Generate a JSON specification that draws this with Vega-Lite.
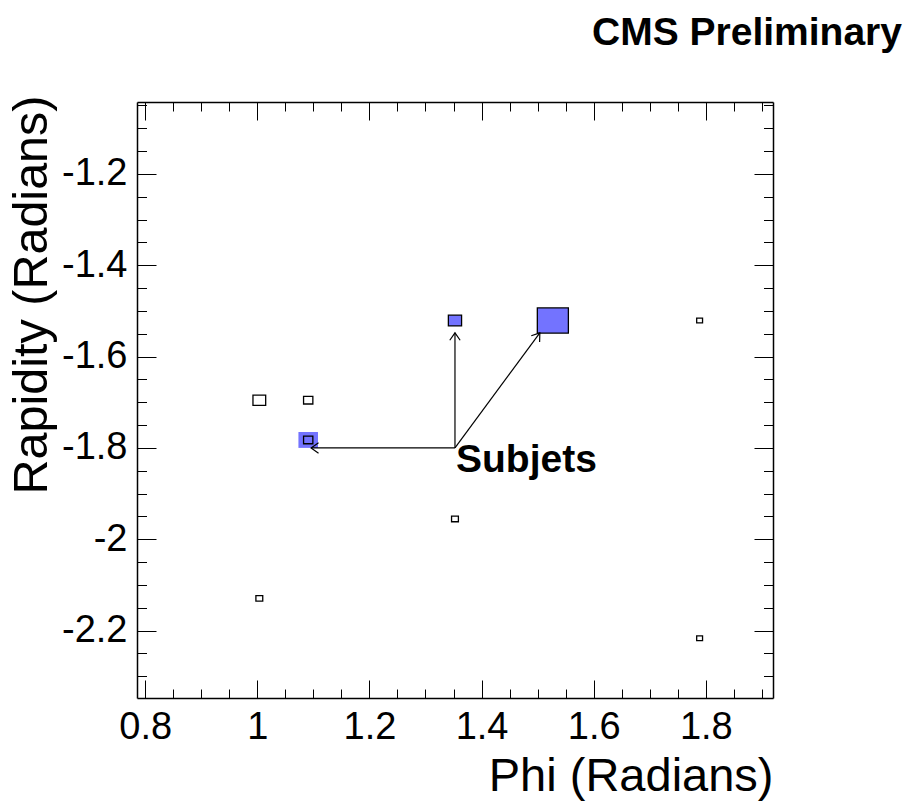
{
  "$schema": "https://vega.github.io/schema/vega-lite/v6.json",
  "autosize": {"type": "none"},
  "padding": {"left": 137, "top": 102, "right": 142, "bottom": 106},
  "width": 636,
  "height": 596,
  "background": "white",
  "config": {
    "font": "Liberation Sans",
    "view": {"stroke": null},
    "axis": {
      "grid": false,
      "domainColor": "black",
      "domainWidth": 1.5,
      "tickColor": "black",
      "tickWidth": 1,
      "labelColor": "black",
      "labelFont": "Liberation Sans",
      "labelFontSize": 38,
      "titleFont": "Liberation Sans",
      "titleFontSize": 47,
      "titleFontWeight": "normal",
      "titleColor": "black"
    }
  },
  "title": {
    "text": "CMS Preliminary",
    "anchor": "end",
    "frame": "group",
    "font": "Liberation Sans",
    "fontSize": 39,
    "fontWeight": "bold",
    "color": "black",
    "baseline": "alphabetic",
    "dx": 129,
    "offset": 11
  },
  "datasets": {
    "constituents": [
      {"phi": 1.0036, "rapidity": -1.6955, "content": 0.26},
      {"phi": 1.0908, "rapidity": -1.6955, "content": 0.19},
      {"phi": 1.0908, "rapidity": -1.7825, "content": 0.19},
      {"phi": 1.3526, "rapidity": -1.521, "content": 0.27},
      {"phi": 1.5272, "rapidity": -1.521, "content": 0.635},
      {"phi": 1.789, "rapidity": -1.521, "content": 0.12},
      {"phi": 1.3526, "rapidity": -1.9555, "content": 0.14},
      {"phi": 1.0036, "rapidity": -2.1295, "content": 0.14},
      {"phi": 1.789, "rapidity": -2.2165, "content": 0.12}
    ],
    "subjets": [
      {"phi": 1.0908, "rapidity": -1.7825, "content": 0.4},
      {"phi": 1.3526, "rapidity": -1.521, "content": 0.27},
      {"phi": 1.5272, "rapidity": -1.521, "content": 0.635}
    ],
    "arrows": [
      {"target": "up", "phi0": 1.3526, "y0": -1.8, "phi1": 1.3526, "y1": -1.548},
      {"target": "diag", "phi0": 1.3526, "y0": -1.8, "phi1": 1.504, "y1": -1.548},
      {"target": "left", "phi0": 1.3526, "y0": -1.8, "phi1": 1.096, "y1": -1.8}
    ],
    "label": [
      {"phi": 1.3526, "rapidity": -1.8, "text": "Subjets"}
    ]
  },
  "resolve": {"axis": {"x": "independent", "y": "independent"}},
  "layer": [
    {
      "data": {"name": "subjets"},
      "mark": {
        "type": "point",
        "shape": "M-1,-0.812L1,-0.812L1,0.812L-1,0.812Z",
        "filled": true,
        "fill": "blue",
        "fillOpacity": 0.55,
        "strokeWidth": 0
      },
      "encoding": {
        "x": {
          "field": "phi", "type": "quantitative",
          "scale": {"domain": [0.7854, 1.9199], "nice": false, "zero": false},
          "axis": {
            "orient": "bottom",
            "values": [0.8, 1, 1.2, 1.4, 1.6, 1.8],
            "labelExpr": "'' + datum.value",
            "tickSize": -18,
            "labelPadding": 28,
            "labelFlush": false,
            "labelOverlap": false,
            "title": "Phi (Radians)",
            "titleFontSize": 47,
            "titleAnchor": "end",
            "titleAlign": "right",
            "titleBaseline": "alphabetic",
            "titleX": 636,
            "titleY": 92
          }
        },
        "y": {
          "field": "rapidity", "type": "quantitative",
          "scale": {"domain": [-2.3475, -1.0425], "nice": false, "zero": false},
          "axis": {
            "orient": "left",
            "values": [-2.2, -2, -1.8, -1.6, -1.4, -1.2],
            "labelExpr": "'' + datum.value",
            "tickSize": -19,
            "labelPadding": 29,
            "labelFlush": false,
            "labelOverlap": false,
            "title": "Rapidity (Radians)",
            "titleFontSize": 48.5,
            "titleAngle": -90,
            "titleAnchor": "end",
            "titleAlign": "right",
            "titleBaseline": "alphabetic",
            "titleX": -91,
            "titleY": -7
          }
        },
        "size": {
          "field": "content", "type": "quantitative",
          "scale": {"type": "pow", "exponent": 2, "domain": [0, 1], "range": [0, 2391]},
          "legend": null
        }
      }
    },
    {
      "data": {"name": "constituents"},
      "mark": {
        "type": "point",
        "shape": "M-1,-0.812L1,-0.812L1,0.812L-1,0.812Z",
        "filled": false,
        "stroke": "black",
        "strokeWidth": 1.3,
        "opacity": 1
      },
      "encoding": {
        "x": {
          "field": "phi", "type": "quantitative",
          "scale": {"domain": [0.7854, 1.9199], "nice": false, "zero": false},
          "axis": {
            "orient": "bottom",
            "values": [0.85, 0.9, 0.95, 1.05, 1.1, 1.15, 1.25, 1.3, 1.35, 1.45, 1.5, 1.55, 1.65, 1.7, 1.75, 1.85, 1.9],
            "tickSize": -9,
            "labels": false,
            "domain": false,
            "title": null
          }
        },
        "y": {
          "field": "rapidity", "type": "quantitative",
          "scale": {"domain": [-2.3475, -1.0425], "nice": false, "zero": false},
          "axis": {
            "orient": "left",
            "values": [-1.05, -1.1, -1.15, -1.25, -1.3, -1.35, -1.45, -1.5, -1.55, -1.65, -1.7, -1.75, -1.85, -1.9, -1.95, -2.05, -2.1, -2.15, -2.25, -2.3],
            "tickSize": -9.5,
            "labels": false,
            "domain": false,
            "title": null
          }
        },
        "size": {
          "field": "content", "type": "quantitative",
          "scale": {"type": "pow", "exponent": 2, "domain": [0, 1], "range": [0, 2391]},
          "legend": null
        }
      }
    },
    {
      "data": {"name": "arrows"},
      "mark": {"type": "rule", "color": "black", "strokeWidth": 1.2},
      "encoding": {
        "x": {
          "field": "phi0", "type": "quantitative",
          "scale": {"domain": [0.7854, 1.9199], "nice": false, "zero": false},
          "axis": {
            "orient": "top",
            "values": [0.8, 1, 1.2, 1.4, 1.6, 1.8],
            "tickSize": -18,
            "labels": false,
            "title": null
          }
        },
        "y": {
          "field": "y0", "type": "quantitative",
          "scale": {"domain": [-2.3475, -1.0425], "nice": false, "zero": false},
          "axis": {
            "orient": "right",
            "values": [-2.2, -2, -1.8, -1.6, -1.4, -1.2],
            "tickSize": -19,
            "labels": false,
            "title": null
          }
        },
        "x2": {"field": "phi1"},
        "y2": {"field": "y1"}
      }
    },
    {
      "data": {"name": "arrows"},
      "transform": [{"filter": "datum.target === 'up'"}],
      "mark": {
        "type": "point",
        "shape": "M-0.7,1L0,0L0.7,1",
        "filled": false,
        "stroke": "black",
        "strokeWidth": 1.2,
        "opacity": 1,
        "size": 220,
        "angle": 0
      },
      "encoding": {
        "x": {
          "field": "phi1", "type": "quantitative",
          "scale": {"domain": [0.7854, 1.9199], "nice": false, "zero": false},
          "axis": {
            "orient": "top",
            "values": [0.85, 0.9, 0.95, 1.05, 1.1, 1.15, 1.25, 1.3, 1.35, 1.45, 1.5, 1.55, 1.65, 1.7, 1.75, 1.85, 1.9],
            "tickSize": -9,
            "labels": false,
            "domain": false,
            "title": null
          }
        },
        "y": {
          "field": "y1", "type": "quantitative",
          "scale": {"domain": [-2.3475, -1.0425], "nice": false, "zero": false},
          "axis": {
            "orient": "right",
            "values": [-1.05, -1.1, -1.15, -1.25, -1.3, -1.35, -1.45, -1.5, -1.55, -1.65, -1.7, -1.75, -1.85, -1.9, -1.95, -2.05, -2.1, -2.15, -2.25, -2.3],
            "tickSize": -9.5,
            "labels": false,
            "domain": false,
            "title": null
          }
        }
      }
    },
    {
      "data": {"name": "arrows"},
      "transform": [{"filter": "datum.target === 'diag'"}],
      "mark": {
        "type": "point",
        "shape": "M-0.7,1L0,0L0.7,1",
        "filled": false,
        "stroke": "black",
        "strokeWidth": 1.2,
        "opacity": 1,
        "size": 220,
        "angle": 36.5
      },
      "encoding": {
        "x": {"field": "phi1", "type": "quantitative", "scale": {"domain": [0.7854, 1.9199], "nice": false, "zero": false}, "axis": null},
        "y": {"field": "y1", "type": "quantitative", "scale": {"domain": [-2.3475, -1.0425], "nice": false, "zero": false}, "axis": null}
      }
    },
    {
      "data": {"name": "arrows"},
      "transform": [{"filter": "datum.target === 'left'"}],
      "mark": {
        "type": "point",
        "shape": "M-0.7,1L0,0L0.7,1",
        "filled": false,
        "stroke": "black",
        "strokeWidth": 1.2,
        "opacity": 1,
        "size": 220,
        "angle": 270
      },
      "encoding": {
        "x": {"field": "phi1", "type": "quantitative", "scale": {"domain": [0.7854, 1.9199], "nice": false, "zero": false}, "axis": null},
        "y": {"field": "y1", "type": "quantitative", "scale": {"domain": [-2.3475, -1.0425], "nice": false, "zero": false}, "axis": null}
      }
    },
    {
      "data": {"name": "label"},
      "mark": {
        "type": "text",
        "font": "Liberation Sans",
        "fontSize": 39,
        "fontWeight": "bold",
        "color": "black",
        "align": "left",
        "baseline": "alphabetic",
        "dx": 1,
        "dy": 24
      },
      "encoding": {
        "x": {"field": "phi", "type": "quantitative", "scale": {"domain": [0.7854, 1.9199], "nice": false, "zero": false}, "axis": null},
        "y": {"field": "rapidity", "type": "quantitative", "scale": {"domain": [-2.3475, -1.0425], "nice": false, "zero": false}, "axis": null},
        "text": {"field": "text"}
      }
    }
  ]
}
